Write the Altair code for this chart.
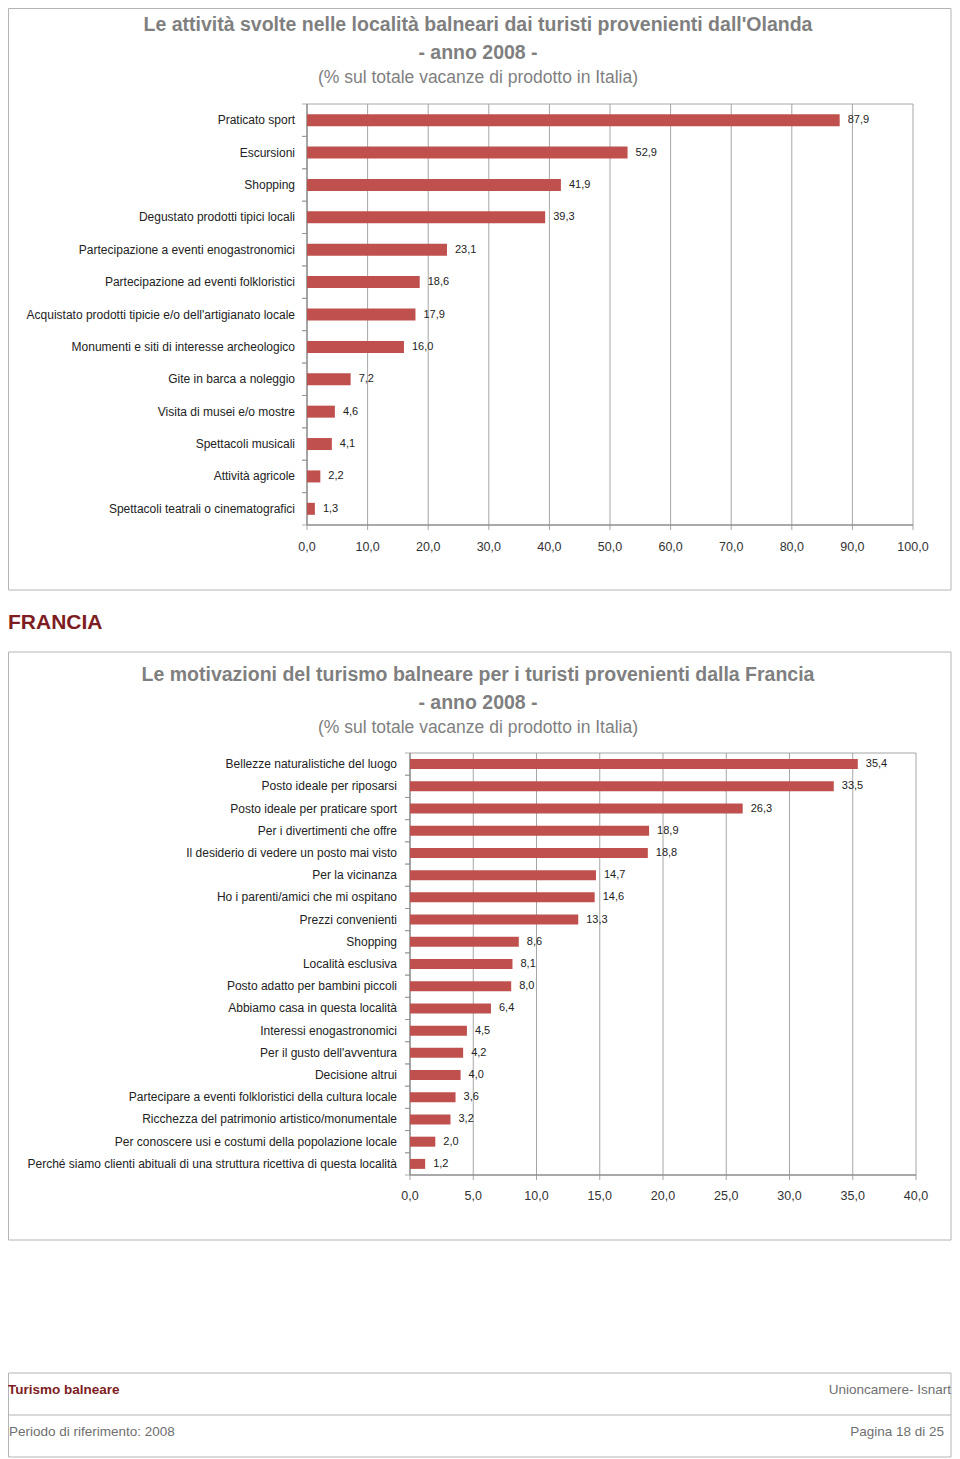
import altair as alt
import pandas as pd

# ---------------- data ----------------
ola_categories = [
    "Praticato sport",
    "Escursioni",
    "Shopping",
    "Degustato prodotti tipici locali",
    "Partecipazione a eventi enogastronomici",
    "Partecipazione ad eventi folkloristici",
    "Acquistato prodotti tipicie e/o dell'artigianato locale",
    "Monumenti e siti di interesse archeologico",
    "Gite in barca a noleggio",
    "Visita di musei e/o mostre",
    "Spettacoli musicali",
    "Attività agricole",
    "Spettacoli teatrali o cinematografici",
]
ola_values = [87.9, 52.9, 41.9, 39.3, 23.1, 18.6, 17.9, 16.0, 7.2, 4.6, 4.1, 2.2, 1.3]
ola_ticks = [0, 10, 20, 30, 40, 50, 60, 70, 80, 90, 100]

fra_categories = [
    "Bellezze naturalistiche del luogo",
    "Posto ideale per riposarsi",
    "Posto ideale per praticare sport",
    "Per i divertimenti che offre",
    "Il desiderio di vedere un posto mai visto",
    "Per la vicinanza",
    "Ho i parenti/amici che mi ospitano",
    "Prezzi convenienti",
    "Shopping",
    "Località esclusiva",
    "Posto adatto per bambini piccoli",
    "Abbiamo casa in questa località",
    "Interessi enogastronomici",
    "Per il gusto dell'avventura",
    "Decisione altrui",
    "Partecipare a eventi folkloristici della cultura locale",
    "Ricchezza del patrimonio artistico/monumentale",
    "Per conoscere usi e costumi della popolazione locale",
    "Perché siamo clienti abituali di una struttura ricettiva di questa località",
]
fra_values = [35.4, 33.5, 26.3, 18.9, 18.8, 14.7, 14.6, 13.3, 8.6, 8.1, 8.0, 6.4,
              4.5, 4.2, 4.0, 3.6, 3.2, 2.0, 1.2]
fra_ticks = [0, 5, 10, 15, 20, 25, 30, 35, 40]

ola_title = "Le attività svolte nelle località balneari dai turisti provenienti dall'Olanda"
fra_title = "Le motivazioni del turismo balneare per i turisti provenienti dalla Francia"
year_line = "- anno 2008 -"
sub_line = "(% sul totale vacanze di prodotto in Italia)"
section_label = "FRANCIA"
footer_left_top = "Turismo balneare"
footer_right_top = "Unioncamere- Isnart"
footer_left_bottom = "Periodo di riferimento: 2008"
footer_right_bottom = "Pagina 18 di 25"

# ---------------- styles ----------------
FONT = "Liberation Sans, Arial, sans-serif"
BAR = "#c0504d"
GRID = "#a6a6a6"
AXIS = "#8c8c8c"
TITLE_GRAY = "#7f7f7f"
DARK_RED = "#7d1d22"
BOX = "#b4b4b4"
TXT = "#222222"


def fmt(v):
    return f"{v:.1f}".replace(".", ",")


def one(text):
    return pd.DataFrame({"t": [text]})


def text_layer(text, x, y, size, color, weight="normal", align="center"):
    return alt.Chart(one(text)).mark_text(
        font=FONT, fontSize=size, color=color, fontWeight=weight,
        align=align, baseline="middle"
    ).encode(x=alt.value(x), y=alt.value(y), text="t:N")


def box_layer(x, x2, y, y2):
    return alt.Chart(one("")).mark_rect(
        fill=None, fillOpacity=0, stroke=BOX, strokeWidth=1
    ).encode(x=alt.value(x), x2=alt.value(x2), y=alt.value(y), y2=alt.value(y2))


def bar_panel(cats, vals, ticks, xr, yr, bar_size, label_x, cat_size, val_size, tick_size, tick_y):
    df = pd.DataFrame({"cat": cats, "val": vals, "lab": [fmt(v) for v in vals]})
    tdf = pd.DataFrame({"t": ticks, "lab": [fmt(t) for t in ticks]})
    edge = pd.DataFrame({"a": [ticks[0]], "b": [ticks[-1]]})
    xs = alt.Scale(domain=[ticks[0], ticks[-1]], range=xr, nice=False, zero=True)
    ys = alt.Scale(domain=cats, range=yr, paddingInner=0, paddingOuter=0)
    top, bottom = yr

    grid = alt.Chart(tdf).mark_rule(color=GRID, strokeWidth=1).encode(
        x=alt.X("t:Q", scale=xs, axis=None), y=alt.value(top), y2=alt.value(bottom + 5))
    top_line = alt.Chart(edge).mark_rule(color=GRID, strokeWidth=1).encode(
        x=alt.X("a:Q", scale=xs, axis=None), x2="b:Q", y=alt.value(top))
    x_axis = alt.Chart(edge).mark_rule(color=AXIS, strokeWidth=1.3).encode(
        x=alt.X("a:Q", scale=xs, axis=None), x2="b:Q", y=alt.value(bottom))
    y_axis = alt.Chart(edge).mark_rule(color=AXIS, strokeWidth=1.3).encode(
        x=alt.X("a:Q", scale=xs, axis=None), y=alt.value(top), y2=alt.value(bottom))
    yticks0 = alt.Chart(df).mark_tick(color=AXIS, orient="horizontal", size=5, thickness=1).encode(
        y=alt.Y("cat:N", scale=ys, axis=None, bandPosition=0),
        x=alt.value(xr[0] - 2.5))
    yticks1 = alt.Chart(df).mark_tick(color=AXIS, orient="horizontal", size=5, thickness=1).encode(
        y=alt.Y("cat:N", scale=ys, axis=None, bandPosition=1),
        x=alt.value(xr[0] - 2.5))
    bars = alt.Chart(df).mark_bar(color=BAR, size=bar_size).encode(
        x=alt.X("val:Q", scale=xs, axis=None),
        y=alt.Y("cat:N", scale=ys, axis=None))
    vlabels = alt.Chart(df).mark_text(
        font=FONT, fontSize=val_size, color=TXT, align="left", baseline="middle", dx=8
    ).encode(x=alt.X("val:Q", scale=xs, axis=None),
             y=alt.Y("cat:N", scale=ys, axis=None), text="lab:N")
    clabels = alt.Chart(df).mark_text(
        font=FONT, fontSize=cat_size, color=TXT, align="right", baseline="middle"
    ).encode(x=alt.value(label_x), y=alt.Y("cat:N", scale=ys, axis=None), text="cat:N")
    tlabels = alt.Chart(tdf).mark_text(
        font=FONT, fontSize=tick_size, color="#333333", align="center", baseline="middle"
    ).encode(x=alt.X("t:Q", scale=xs, axis=None), y=alt.value(tick_y), text="lab:N")
    return [grid, top_line, x_axis, y_axis, yticks0, yticks1, bars, vlabels, clabels, tlabels]


layers = []
# ---- chart 1 (Olanda) ----
layers.append(box_layer(0.5, 943, 0.5, 582))
layers.append(text_layer(ola_title, 470, 17, 19.5, TITLE_GRAY, "bold"))
layers.append(text_layer(year_line, 470, 45, 19.5, TITLE_GRAY, "bold"))
layers.append(text_layer(sub_line, 470, 70, 17.5, TITLE_GRAY))
layers += bar_panel(ola_categories, ola_values, ola_ticks, [299, 905], [96, 517],
                    12, 287, 12, 11, 12.5, 539)

# ---- section label ----
layers.append(text_layer(section_label, 0, 615, 21, DARK_RED, "bold", "left"))

# ---- chart 2 (Francia) ----
layers.append(box_layer(0.5, 943, 644, 1232))
layers.append(text_layer(fra_title, 470, 667, 19.5, TITLE_GRAY, "bold"))
layers.append(text_layer(year_line, 470, 695, 19.5, TITLE_GRAY, "bold"))
layers.append(text_layer(sub_line, 470, 720, 17.5, TITLE_GRAY))
layers += bar_panel(fra_categories, fra_values, fra_ticks, [402, 908], [745, 1167],
                    10, 389, 12, 11, 12.5, 1188)

# ---- footer ----
layers.append(box_layer(0.5, 943, 1365, 1449))
layers.append(alt.Chart(one("")).mark_rule(color=BOX).encode(
    x=alt.value(0), x2=alt.value(943), y=alt.value(1407)))
layers.append(text_layer(footer_left_top, 0, 1382, 13.5, DARK_RED, "bold", "left"))
layers.append(text_layer(footer_right_top, 943, 1382, 13.5, "#6f6f6f", "normal", "right"))
layers.append(text_layer(footer_left_bottom, 1, 1424, 13.5, "#6f6f6f", "normal", "left"))
layers.append(text_layer(footer_right_bottom, 936, 1424, 13.5, "#6f6f6f", "normal", "right"))

chart = alt.layer(*layers).properties(
    width=944, height=1451, padding=0, autosize="none", background="white"
).resolve_scale(x="independent", y="independent").configure_view(stroke=None)

chart.save("out.html", embed_options={"renderer": "svg", "actions": False})
